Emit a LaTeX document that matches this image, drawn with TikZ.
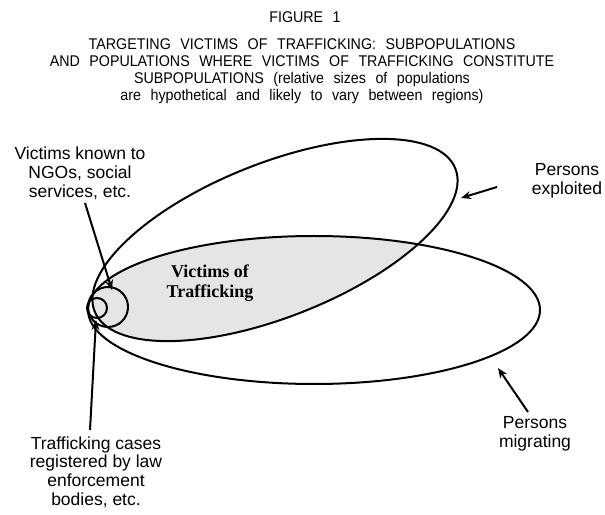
\documentclass[tikz,border=0pt]{standalone}
\usepackage{fontspec}
\setmainfont{Liberation Sans}
\newfontfamily\serifbold{Liberation Serif}
\newfontfamily\titlefont[WordSpace=2.4]{Liberation Sans}
\usetikzlibrary{arrows.meta}
\tikzset{
  outline/.style={line width=2pt},
  arr/.style={line width=2pt,-{Stealth[length=10pt,width=8pt]}},
  lbl/.style={align=center,inner sep=0pt,font=\fontsize{17.5}{18.8}\selectfont},
  ttl/.style={align=center,inner sep=0pt,xscale=0.92,transform shape,font=\titlefont\fontsize{15.5}{17}\selectfont}
}
\begin{document}
\begin{tikzpicture}[x=1pt,y=1pt]
\useasboundingbox (0,0) rectangle (605,514);
% title
\node[ttl] (fig) at (305,497) {FIGURE 1};
\node[ttl] (title) at (302,443) {TARGETING VICTIMS OF TRAFFICKING: SUBPOPULATIONS\\
AND POPULATIONS WHERE VICTIMS OF TRAFFICKING CONSTITUTE\\
SUBPOPULATIONS (relative sizes of populations\\
are hypothetical and likely to vary between regions)};
% shaded intersection
\begin{scope}
  \clip[rotate around={21.6:(275,274)}] (275,274) ellipse [x radius=194, y radius=77];
  \fill[black!10] (314,204) ellipse [x radius=226, y radius=74];
\end{scope}
\draw[outline,rotate around={21.6:(275,274)}] (275,274) ellipse [x radius=194, y radius=77];
\draw[outline] (314,204) ellipse [x radius=226, y radius=74];
\node[circle,draw,line width=2pt,minimum size=40pt,inner sep=0pt] (ngoc) at (108,207) {};
\node[circle,draw,line width=2pt,minimum size=20pt,inner sep=0pt] (lawc) at (97,206) {};
\node[align=center,inner sep=0pt,font=\serifbold\bfseries\fontsize{18}{20}\selectfont] (vot) at (210,231) {Victims of\\Trafficking};
% labels
\node[lbl] (ngo) at (80,341) {Victims known to\\NGOs, social\\services, etc.};
\node[lbl] (expl) at (567,333) {Persons\\exploited};
\node[lbl] (migr) at (535,80) {Persons\\migrating};
\node[lbl] (cases) at (96,42) {Trafficking cases\\registered by law\\enforcement\\bodies, etc.};
% arrows
\coordinate (ngoTail) at (85,311);
\coordinate (ngoTip) at (112,224);
\coordinate (explTail) at (497,327);
\coordinate (explTip) at (461,316);
\coordinate (migrTail) at (528,102);
\coordinate (migrTip) at (498,146);
\coordinate (casesTail) at (90,84);
\coordinate (casesTip) at (96,194);
\draw[arr] (ngoTail) -- (ngoTip);
\draw[arr] (explTail) -- (explTip);
\draw[arr] (migrTail) -- (migrTip);
\draw[arr] (casesTail) -- (casesTip);
\end{tikzpicture}
\end{document}
